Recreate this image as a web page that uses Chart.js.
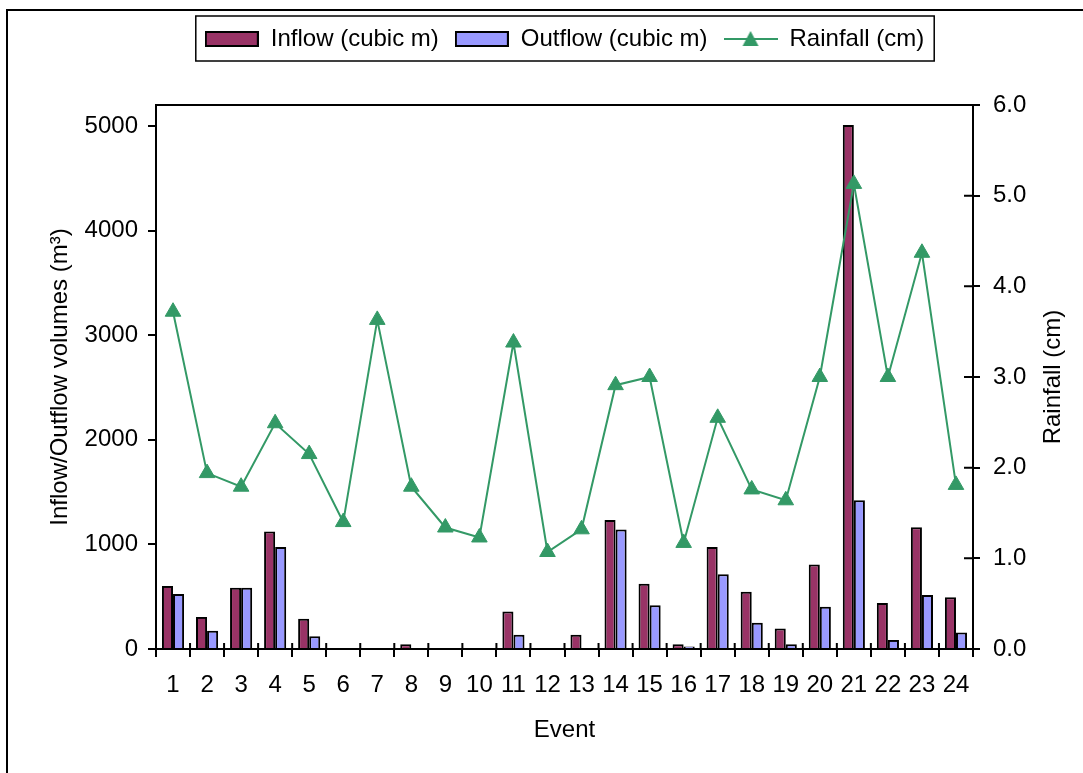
<!DOCTYPE html>
<html>
<head>
<meta charset="utf-8">
<script src="https://cdn.jsdelivr.net/npm/chart.js@4/dist/chart.umd.min.js"></script>
<style>
  html, body { margin: 0; padding: 0; background: #fff; overflow: hidden; }
  #frame { position: absolute; left: 6px; top: 9px; width: 1200px; height: 900px; border: 2px solid #000; }
  #chart { position: absolute; left: 0; top: 0; }
</style>
</head>
<body>
<div id="frame"></div>
<canvas id="chart" width="1083" height="773"></canvas>
<script>
// event numbers on the x axis
const events = ["1", "2", "3", "4", "5", "6", "7", "8", "9", "10", "11", "12",
  "13", "14", "15", "16", "17", "18", "19", "20", "21", "22", "23", "24"];

// volumes in cubic m (left axis)
const inflow = [603, 307, 585, 1122, 289, 0, 0, 45, 0, 0, 359, 0,
  136, 1233, 624, 45, 976, 547, 195, 808, 5010, 439, 1164, 495];
const outflow = [526, 174, 585, 976, 122, 0, 0, 0, 0, 0, 136, 0,
  0, 1143, 418, 24, 714, 251, 45, 404, 1422, 87, 516, 157];

// rainfall in cm (right axis)
const rainfall = [3.72, 1.94, 1.79, 2.49, 2.15, 1.40, 3.63, 1.79, 1.34, 1.23, 3.38, 1.07,
  1.32, 2.91, 3.00, 1.17, 2.55, 1.76, 1.64, 3.00, 5.13, 3.00, 4.37, 1.81];

// tick values
const volumeTicks = [0, 1000, 2000, 3000, 4000, 5000];
const rainTicks = [0, 1, 2, 3, 4, 5, 6];

const FONT = "'Liberation Sans', Arial, sans-serif";
const FS = 24;
const INFLOW_COLOR = "#993366";
const OUTFLOW_COLOR = "#9999FF";
const RAIN_COLOR = "#339966";

// small canvases used as legend symbols
function makeIcon(kind) {
  const c = document.createElement("canvas");
  c.width = 54;
  c.height = 18;
  const g = c.getContext("2d");
  if (kind === "line") {
    g.strokeStyle = RAIN_COLOR;
    g.lineWidth = 2;
    g.beginPath();
    g.moveTo(0, 9);
    g.lineTo(54, 9);
    g.stroke();
    g.fillStyle = RAIN_COLOR;
    g.beginPath();
    g.moveTo(27, 1);
    g.lineTo(35, 16);
    g.lineTo(19, 16);
    g.closePath();
    g.fill();
  } else {
    g.fillStyle = kind === "in" ? INFLOW_COLOR : OUTFLOW_COLOR;
    g.fillRect(1, 2, 52, 14);
    g.strokeStyle = "#000";
    g.lineWidth = 2;
    g.strokeRect(1, 2, 52, 14);
  }
  return c;
}
const icons = { in: makeIcon("in"), out: makeIcon("out"), line: makeIcon("line") };

// plot frame, crossing ticks, legend box and right axis title
const decor = {
  id: "decor",
  afterDraw(chart) {
    const { ctx, chartArea: a, scales } = chart;
    ctx.save();
    ctx.strokeStyle = "#000";
    ctx.lineWidth = 2;
    ctx.strokeRect(a.left, a.top, a.right - a.left, a.bottom - a.top);

    ctx.beginPath();
    const n = chart.data.labels.length;
    const step = (a.right - a.left) / n;
    for (let i = 0; i <= n; i++) {
      const x = a.left + i * step;
      ctx.moveTo(x, a.bottom);
      ctx.lineTo(x, a.bottom - 6);
    }
    scales.y1.ticks.forEach((t) => {
      const y = scales.y1.getPixelForValue(t.value);
      ctx.moveTo(a.right - 9, y);
      ctx.lineTo(a.right, y);
    });
    ctx.stroke();

    const hb = chart.legend.legendHitBoxes;
    if (hb && hb.length) {
      const first = hb[0];
      const last = hb[hb.length - 1];
      const x0 = first.left - 9;
      const x1 = last.left + last.width + 10;
      const y0 = first.top - 11;
      const y1 = first.top + first.height + 10;
      ctx.lineWidth = 1.5;
      ctx.strokeRect(x0, y0, x1 - x0, y1 - y0);
    }

    ctx.fillStyle = "#000";
    ctx.font = FS + "px " + FONT;
    ctx.textAlign = "center";
    ctx.textBaseline = "middle";
    ctx.translate(a.right + 80, (a.top + a.bottom) / 2);
    ctx.rotate(-Math.PI / 2);
    ctx.fillText("Rainfall (cm)", 0, 0);
    ctx.restore();
  },
};

const ctx = document.getElementById("chart").getContext("2d");
const chart = new Chart(ctx, {
  type: "bar",
  data: {
    labels: events,
    datasets: [
      {
        type: "line",
        label: "Rainfall (cm)",
        data: rainfall,
        yAxisID: "y1",
        order: 0,
        borderColor: RAIN_COLOR,
        backgroundColor: RAIN_COLOR,
        borderWidth: 2,
        pointStyle: "triangle",
        pointRadius: 9,
        pointBorderWidth: 1,
        tension: 0,
      },
      {
        label: "Inflow (cubic m)",
        data: inflow,
        yAxisID: "y",
        order: 1,
        backgroundColor: INFLOW_COLOR,
        borderColor: "#000",
        borderWidth: 2,
        categoryPercentage: 0.65,
        barPercentage: 1.0,
      },
      {
        label: "Outflow (cubic m)",
        data: outflow,
        yAxisID: "y",
        order: 2,
        backgroundColor: OUTFLOW_COLOR,
        borderColor: "#000",
        borderWidth: 2,
        categoryPercentage: 0.65,
        barPercentage: 1.0,
      },
    ],
  },
  options: {
    responsive: false,
    animation: false,
    devicePixelRatio: 1,
    layout: { padding: { left: 46, right: 0, top: 11, bottom: 24 } },
    plugins: {
      tooltip: { enabled: false },
      legend: {
        position: "top",
        align: "center",
        onClick: null,
        labels: {
          usePointStyle: true,
          pointStyleWidth: 54,
          padding: 16,
          color: "#000",
          font: { size: FS, family: FONT },
          generateLabels: () => [
            { text: "Inflow (cubic m)", pointStyle: icons.in, datasetIndex: 1, lineWidth: 0, fontColor: "#000" },
            { text: "Outflow (cubic m)", pointStyle: icons.out, datasetIndex: 2, lineWidth: 0, fontColor: "#000" },
            { text: "Rainfall (cm)", pointStyle: icons.line, datasetIndex: 0, lineWidth: 0, fontColor: "#000" },
          ],
        },
      },
      // empty title used as a spacer between legend and plot
      title: {
        display: true,
        text: " ",
        weight: 500,
        font: { size: 10 },
        padding: { top: 32, bottom: 0 },
      },
    },
    scales: {
      x: {
        grid: { drawOnChartArea: false, color: "#000", lineWidth: 2, tickLength: 8, offset: true },
        border: { color: "#000", width: 2 },
        ticks: { color: "#000", font: { size: FS, family: FONT }, padding: 14, autoSkip: false, maxRotation: 0 },
        title: { display: true, text: "Event", color: "#000", font: { size: FS, family: FONT }, padding: { top: 0, bottom: 4 } },
        afterFit: (s) => { s.height = 100; },
      },
      y: {
        position: "left",
        min: 0,
        max: 5200,
        grid: { drawOnChartArea: false, color: "#000", lineWidth: 2, tickLength: 8 },
        border: { color: "#000", width: 2 },
        ticks: { color: "#000", font: { size: FS, family: FONT }, padding: 10, autoSkip: false, callback: (v) => String(v) },
        afterBuildTicks: (s) => { s.ticks = volumeTicks.map((v) => ({ value: v })); },
        title: { display: true, text: "Inflow/Outflow volumes (m³)", color: "#000", font: { size: FS, family: FONT }, padding: { top: 0, bottom: 0 } },
        afterFit: (s) => { s.width = 110; },
      },
      y1: {
        position: "right",
        min: 0,
        max: 6,
        grid: { drawOnChartArea: false, color: "#000", lineWidth: 2, tickLength: 7 },
        border: { color: "#000", width: 2 },
        ticks: { color: "#000", font: { size: FS, family: FONT }, padding: 13, autoSkip: false, callback: (v) => v.toFixed(1) },
        afterBuildTicks: (s) => { s.ticks = rainTicks.map((v) => ({ value: v })); },
        afterFit: (s) => { s.width = 110; },
      },
    },
  },
  plugins: [decor],
});
</script>
</body>
</html>
